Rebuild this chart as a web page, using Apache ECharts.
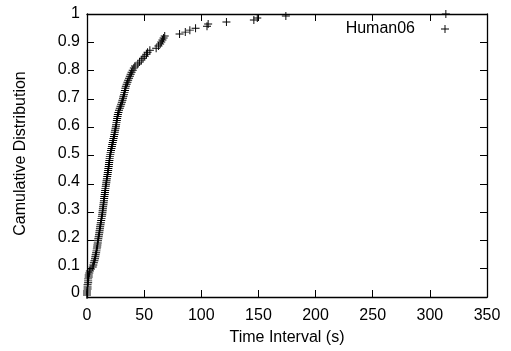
<!DOCTYPE html>
<html>
<head>
<meta charset="utf-8">
<script src="https://cdn.jsdelivr.net/npm/echarts@6/dist/echarts.min.js"></script>
<style>html,body{margin:0;padding:0;background:#fff;}#c{width:511px;height:351px;}</style>
</head>
<body>
<div id="c"></div>
<script>
var seriesName = 'Human06';
var xTicks = [0, 50, 100, 150, 200, 250, 300, 350];
var yTicks = [0, 0.1, 0.2, 0.3, 0.4, 0.5, 0.6, 0.7, 0.8, 0.9, 1];
var timeInterval = [
  0, 0, 0, 0.5, 0.5, 0.5, 1, 1, 1, 1.5, 1.5, 2, 2.5, 3.5, 5, 5.5, 6, 6.5, 7, 7.3,
  7.6, 8, 8.3, 8.6, 8.9, 9.1, 9.4, 9.6, 9.9, 10.2, 10.5, 10.8, 11, 11.3, 11.5, 11.8, 12.1, 12.4, 12.7, 13,
  13.3, 13.5, 13.7, 13.9, 14.1, 14.4, 14.6, 14.8, 15, 15.2, 15.5, 15.7, 15.9, 16.1, 16.4, 16.6, 16.9, 17.1, 17.4, 17.7,
  18, 18.2, 18.5, 18.7, 19, 19.2, 19.4, 19.6, 19.8, 20, 20.4, 20.7, 21, 21.4, 21.8, 22.1, 22.5, 22.9, 23.2, 23.6,
  24, 24.3, 24.6, 25, 25.3, 25.5, 25.8, 26.1, 26.4, 26.7, 27, 27.5, 28, 28.7, 29.3, 29.9, 30.5, 31, 31.5, 31.9,
  32.4, 32.8, 33.2, 33.6, 34, 34.7, 35.4, 36, 36.8, 37.5, 38.2, 39, 40, 41, 42, 44.5, 46, 47.5, 49, 50.5,
  52, 53, 55, 60.5, 62.5, 64, 65, 66, 67, 68, 81, 86, 90, 95, 105, 106, 122, 146, 149, 174, 314
];
var cumulative = [
  0.007, 0.014, 0.021, 0.028, 0.035, 0.043, 0.050, 0.057, 0.064, 0.071, 0.078, 0.085, 0.092, 0.099, 0.106, 0.113, 0.121, 0.128, 0.135, 0.142,
  0.149, 0.156, 0.163, 0.170, 0.177, 0.184, 0.191, 0.199, 0.206, 0.213, 0.220, 0.227, 0.234, 0.241, 0.248, 0.255, 0.262, 0.270, 0.277, 0.284,
  0.291, 0.298, 0.305, 0.312, 0.319, 0.326, 0.333, 0.340, 0.348, 0.355, 0.362, 0.369, 0.376, 0.383, 0.390, 0.397, 0.404, 0.411, 0.418, 0.426,
  0.433, 0.440, 0.447, 0.454, 0.461, 0.468, 0.475, 0.482, 0.489, 0.496, 0.504, 0.511, 0.518, 0.525, 0.532, 0.539, 0.546, 0.553, 0.560, 0.567,
  0.574, 0.582, 0.589, 0.596, 0.603, 0.610, 0.617, 0.624, 0.631, 0.638, 0.645, 0.652, 0.660, 0.667, 0.674, 0.681, 0.688, 0.695, 0.702, 0.709,
  0.716, 0.723, 0.730, 0.738, 0.745, 0.752, 0.759, 0.766, 0.773, 0.780, 0.787, 0.794, 0.801, 0.809, 0.816, 0.823, 0.830, 0.837, 0.844, 0.851,
  0.858, 0.865, 0.872, 0.879, 0.887, 0.894, 0.901, 0.908, 0.915, 0.922, 0.929, 0.936, 0.943, 0.950, 0.957, 0.965, 0.972, 0.979, 0.986, 0.993, 1.000
];
var points = timeInterval.map(function (x, i) { return [x, cumulative[i]]; });
var plus = 'path://M4.4,0H5.6V4.4H10V5.6H5.6V10H4.4V5.6H0V4.4H4.4Z';
var font = '"Liberation Sans", Arial, sans-serif';
var G = {left: 87, right: 24, top: 14, bottom: 54, containLabel: false};
var chart = echarts.init(document.getElementById('c'), null, {renderer: 'canvas'});
function axisLine(show) { return {show: show, onZero: false, lineStyle: {color: '#000', width: 1.3}}; }
function tick(show) { return {show: show, inside: true, length: 7, lineStyle: {color: '#000', width: 1}}; }
function xAx(grid, pos, withLine, withTick) {
  return {gridIndex: grid, type: 'value', position: pos, min: xTicks[0], max: xTicks[xTicks.length - 1], interval: 50,
    axisLine: axisLine(withLine), axisTick: tick(withTick), splitLine: {show: false}, axisLabel: {show: false}};
}
function yAx(grid, pos, withLine, withTick) {
  return {gridIndex: grid, type: 'value', position: pos, min: yTicks[0], max: yTicks[yTicks.length - 1], interval: 0.1,
    axisLine: axisLine(withLine), axisTick: tick(withTick), splitLine: {show: false}, axisLabel: {show: false}};
}
var xLabelAxis = xAx(1, 'bottom', false, false);
xLabelAxis.name = 'Time Interval (s)';
xLabelAxis.nameLocation = 'middle';
xLabelAxis.nameGap = 37;
xLabelAxis.nameTextStyle = {fontFamily: font, fontSize: 16, color: '#000'};
xLabelAxis.axisLabel = {show: true, fontFamily: font, fontSize: 16, color: '#000', margin: 15};
var yLabelAxis = yAx(1, 'left', false, false);
yLabelAxis.name = 'Camulative Distribution';
yLabelAxis.nameLocation = 'middle';
yLabelAxis.nameGap = 58;
yLabelAxis.nameRotate = 90;
yLabelAxis.nameTextStyle = {fontFamily: font, fontSize: 16, color: '#000'};
yLabelAxis.axisLabel = {show: true, fontFamily: font, fontSize: 16, color: '#000', margin: 7,
  formatter: function (v) { return String(Math.round(v * 10) / 10); }};
chart.setOption({
  animation: false,
  backgroundColor: '#fff',
  grid: [G, G],
  legend: {
    data: [{name: seriesName, icon: plus}],
    right: 62, top: 21, padding: 0, align: 'right', itemWidth: 8, itemHeight: 8,
    textStyle: {fontFamily: font, fontSize: 16, color: '#000', padding: [0, 21, 0, 0]},
    selectedMode: false
  },
  xAxis: [xAx(0, 'bottom', true, true), xAx(0, 'top', true, true), xLabelAxis],
  yAxis: [yAx(0, 'left', true, true), yAx(0, 'right', true, true), yLabelAxis],
  series: [{
    name: seriesName, type: 'scatter', data: points, xAxisIndex: 0, yAxisIndex: 0,
    symbol: plus, symbolSize: 8,
    itemStyle: {color: '#000', opacity: 1}
  }, {
    name: 'labels', type: 'scatter', data: [], xAxisIndex: 2, yAxisIndex: 2, silent: true
  }]
});
</script>
</body>
</html>
